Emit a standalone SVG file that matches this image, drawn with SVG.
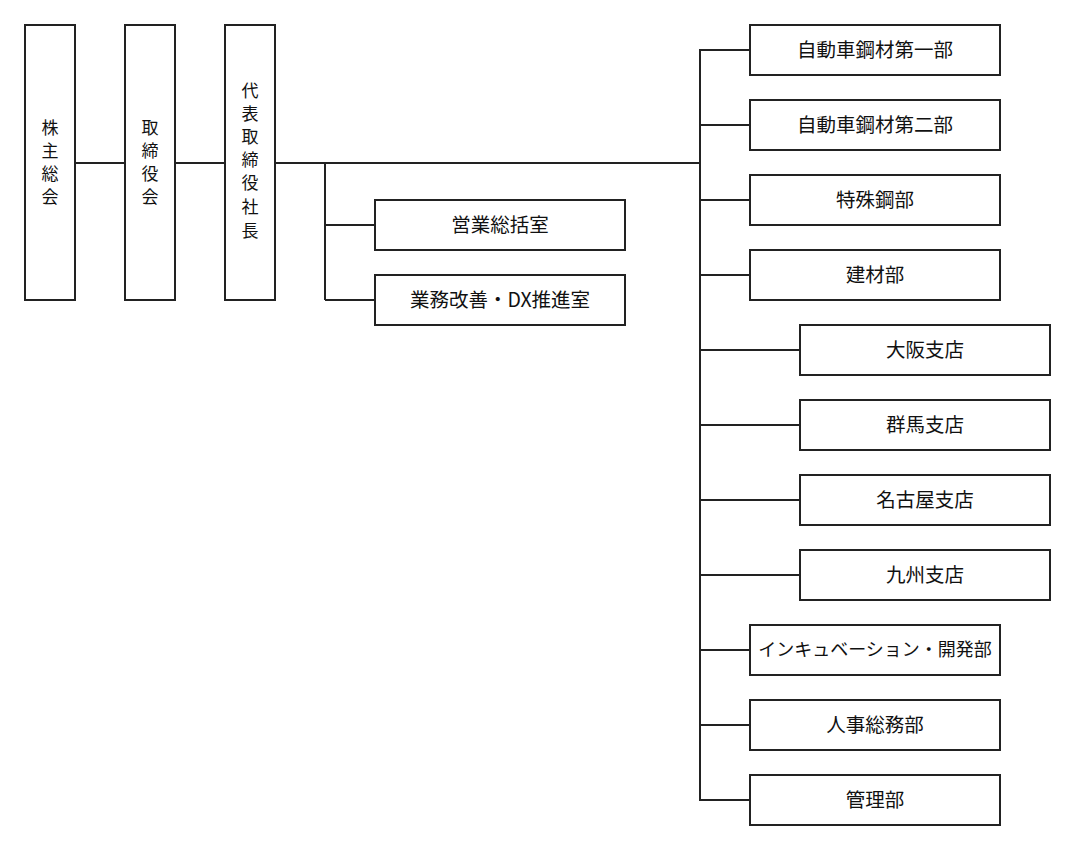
<svg xmlns="http://www.w3.org/2000/svg" width="1080" height="850" viewBox="0 0 1080 850">
<style>
rect{fill:#fff;stroke:#222;stroke-width:2}
line{stroke:#222;stroke-width:2}
text{font-family:"Noto Sans CJK JP","Noto Sans",sans-serif;font-size:19.5px;fill:#111;text-anchor:middle;dominant-baseline:central}
.v{font-size:17px}
</style>
<rect width="1080" height="850" style="stroke:none"/>
<g id="connectors">
<line x1="75" y1="163" x2="125" y2="163"/>
<line x1="175" y1="163" x2="225" y2="163"/>
<line x1="275" y1="163" x2="700" y2="163"/>
<line x1="325" y1="163" x2="325" y2="300"/>
<line x1="325" y1="225" x2="375" y2="225"/>
<line x1="325" y1="300" x2="375" y2="300"/>
<line x1="700" y1="49" x2="700" y2="801"/>
<line x1="700" y1="50" x2="750" y2="50"/>
<line x1="700" y1="125" x2="750" y2="125"/>
<line x1="700" y1="200" x2="750" y2="200"/>
<line x1="700" y1="275" x2="750" y2="275"/>
<line x1="700" y1="350" x2="800" y2="350"/>
<line x1="700" y1="425" x2="800" y2="425"/>
<line x1="700" y1="500" x2="800" y2="500"/>
<line x1="700" y1="575" x2="800" y2="575"/>
<line x1="700" y1="650" x2="750" y2="650"/>
<line x1="700" y1="725" x2="750" y2="725"/>
<line x1="700" y1="800" x2="750" y2="800"/>
</g>
<g id="n1"><rect x="25" y="25" width="50" height="275"/><text class="v" x="50" y="126">株</text><text class="v" x="50" y="149">主</text><text class="v" x="50" y="172">総</text><text class="v" x="50" y="195">会</text></g>
<g id="n2"><rect x="125" y="25" width="50" height="275"/><text class="v" x="150" y="126">取</text><text class="v" x="150" y="149">締</text><text class="v" x="150" y="172">役</text><text class="v" x="150" y="195">会</text></g>
<g id="n3"><rect x="225" y="25" width="50" height="275"/><text class="v" x="250" y="89">代</text><text class="v" x="250" y="112">表</text><text class="v" x="250" y="135">取</text><text class="v" x="250" y="158">締</text><text class="v" x="250" y="181">役</text><text class="v" x="250" y="205">社</text><text class="v" x="250" y="229">長</text></g>
<g id="n4"><rect x="375" y="200" width="250" height="50"/><text x="500" y="223">営業総括室</text></g>
<g id="n5"><rect x="375" y="275" width="250" height="50"/><text x="500" y="298">業務改善・DX推進室</text></g>
<g id="n6"><rect x="750" y="25" width="250" height="50"/><text x="875" y="48">自動車鋼材第一部</text></g>
<g id="n7"><rect x="750" y="100" width="250" height="50"/><text x="875" y="123">自動車鋼材第二部</text></g>
<g id="n8"><rect x="750" y="175" width="250" height="50"/><text x="875" y="198">特殊鋼部</text></g>
<g id="n9"><rect x="750" y="250" width="250" height="50"/><text x="875" y="273">建材部</text></g>
<g id="n10"><rect x="800" y="325" width="250" height="50"/><text x="925" y="348">大阪支店</text></g>
<g id="n11"><rect x="800" y="400" width="250" height="50"/><text x="925" y="423">群馬支店</text></g>
<g id="n12"><rect x="800" y="475" width="250" height="50"/><text x="925" y="498">名古屋支店</text></g>
<g id="n13"><rect x="800" y="550" width="250" height="50"/><text x="925" y="573">九州支店</text></g>
<g id="n14"><rect x="750" y="625" width="250" height="50"/><text x="875" y="648" style="font-size:18px">インキュベーション・開発部</text></g>
<g id="n15"><rect x="750" y="700" width="250" height="50"/><text x="875" y="723">人事総務部</text></g>
<g id="n16"><rect x="750" y="775" width="250" height="50"/><text x="875" y="798">管理部</text></g>
</svg>
